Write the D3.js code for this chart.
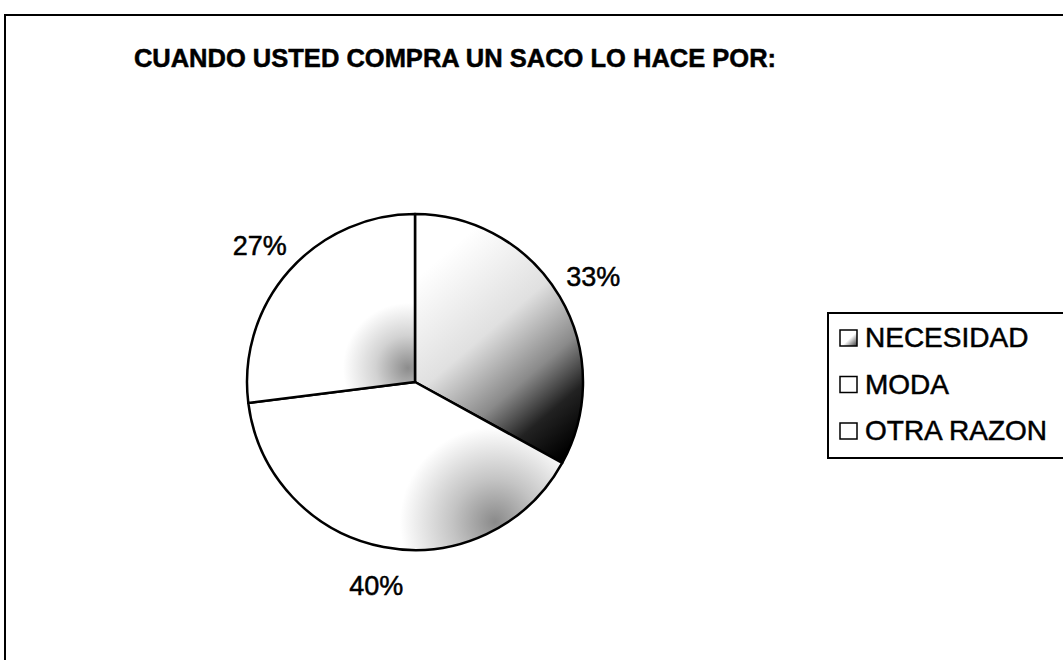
<!DOCTYPE html>
<html>
<head>
<meta charset="utf-8">
<script src="https://cdn.jsdelivr.net/npm/d3@7"></script>
<style>
  body { margin: 0; background: #fff; }
  text { font-family: Arial, "Liberation Sans", sans-serif; fill: #000; stroke: #000; stroke-width: 0.5px; }
</style>
</head>
<body>
<div id="chart"></div>
<script>
// data
var categories = ["NECESIDAD", "MODA", "OTRA RAZON"];
var percents = [33, 40, 27];
var title = "CUANDO USTED COMPRA UN SACO LO HACE POR:";

var W = 1063, H = 660;
var cx = 415, cy = 382, radius = 168;

var svg = d3.select("#chart").append("svg")
    .attr("width", W).attr("height", H);

var defs = svg.append("defs");

// scanned-looking gradient fills (coords relative to pie centre)
var g1 = defs.append("linearGradient").attr("id", "fillNec")
    .attr("gradientUnits", "userSpaceOnUse")
    .attr("x1", 20).attr("y1", -120).attr("x2", 170).attr("y2", 55);
g1.append("stop").attr("offset", "0%").attr("stop-color", "#ffffff");
g1.append("stop").attr("offset", "38%").attr("stop-color", "#e0e0e0");
g1.append("stop").attr("offset", "64%").attr("stop-color", "#8a8a8a");
g1.append("stop").attr("offset", "82%").attr("stop-color", "#222");
g1.append("stop").attr("offset", "100%").attr("stop-color", "#000");

var g2 = defs.append("radialGradient").attr("id", "fillModa")
    .attr("gradientUnits", "userSpaceOnUse")
    .attr("cx", 80).attr("cy", 140).attr("r", 95);
g2.append("stop").attr("offset", "0%").attr("stop-color", "#8a8a8a");
g2.append("stop").attr("offset", "45%").attr("stop-color", "#c4c4c4");
g2.append("stop").attr("offset", "100%").attr("stop-color", "#ffffff");

var g3 = defs.append("radialGradient").attr("id", "fillOtra")
    .attr("gradientUnits", "userSpaceOnUse")
    .attr("cx", -7).attr("cy", -14).attr("r", 65);
g3.append("stop").attr("offset", "0%").attr("stop-color", "#8c8c8c");
g3.append("stop").attr("offset", "50%").attr("stop-color", "#d2d2d2");
g3.append("stop").attr("offset", "100%").attr("stop-color", "#ffffff");

var gs = defs.append("linearGradient").attr("id", "swNec")
    .attr("x1", 0).attr("y1", 0).attr("x2", 1).attr("y2", 1);
gs.append("stop").attr("offset", "55%").attr("stop-color", "#fff");
gs.append("stop").attr("offset", "100%").attr("stop-color", "#333");

var fills = ["url(#fillNec)", "url(#fillModa)", "url(#fillOtra)"];
var swatches = ["url(#swNec)", "#fff", "#fff"];

// outer frame
svg.append("path")
    .attr("d", "M5," + H + "V15H" + W)
    .attr("fill", "none").attr("stroke", "#000").attr("stroke-width", 2);

// title
svg.append("text")
    .attr("x", 455).attr("y", 67)
    .attr("text-anchor", "middle")
    .style("font-size", "25.5px").style("font-weight", "bold")
    .text(title);

// pie
var pie = d3.pie().sort(null).value(function(d) { return d; });
var arcs = pie(percents);
var arc = d3.arc().innerRadius(0).outerRadius(radius);
var labelArc = d3.arc().innerRadius(207).outerRadius(207);

var g = svg.append("g").attr("transform", "translate(" + cx + "," + cy + ")");

g.selectAll("path.slice")
  .data(arcs)
  .enter()
    .append("path")
      .attr("class", "slice")
      .attr("d", arc)
      .attr("fill", function(d, i) { return fills[i]; })
      .attr("stroke", "#000")
      .attr("stroke-width", 2.5)
      .attr("stroke-linejoin", "round");

g.selectAll("text.pct")
  .data(arcs)
  .enter()
    .append("text")
      .attr("class", "pct")
      .attr("transform", function(d) { return "translate(" + labelArc.centroid(d) + ")"; })
      .attr("text-anchor", "middle")
      .attr("dy", "0.35em")
      .style("font-size", "27px")
      .text(function(d) { return d.data + "%"; });

// legend
var legend = svg.append("g").attr("transform", "translate(828,313)");
legend.append("rect")
    .attr("x", 0).attr("y", 0).attr("width", 260).attr("height", 145)
    .attr("fill", "#fff").attr("stroke", "#000").attr("stroke-width", 2);

var items = legend.selectAll("g.item")
  .data(categories)
  .enter()
    .append("g")
      .attr("class", "item")
      .attr("transform", function(d, i) { return "translate(0," + (34 + i * 46.5) + ")"; });

items.append("rect")
    .attr("x", 12).attr("y", -17).attr("width", 17).attr("height", 16)
    .attr("fill", function(d, i) { return swatches[i]; })
    .attr("stroke", "#000").attr("stroke-width", 1.5);

items.append("text")
    .attr("x", 37).attr("y", 0)
    .style("font-size", "28px")
    .text(function(d) { return d; });
</script>
</body>
</html>
